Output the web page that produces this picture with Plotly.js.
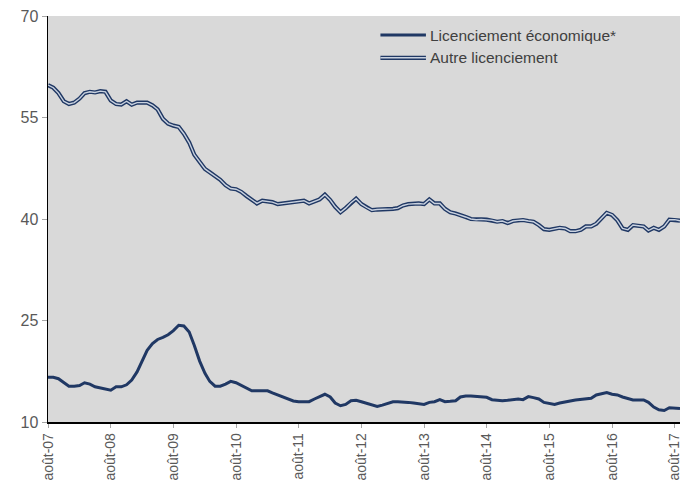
<!DOCTYPE html>
<html>
<head>
<meta charset="utf-8">
<script src="https://cdn.plot.ly/plotly-3.0.1.min.js"></script>
<style>html,body{margin:0;padding:0;background:#fff}#chart{width:696px;height:486px}</style>
</head>
<body>
<div id="chart"></div>
<script>
// Monthly series, août 2007 -> septembre 2017
var startYear = 2007, startMonth = 8;
var seriesNames = ["Licenciement économique*", "Autre licenciement"];
var licEco = [16.6,16.6,16.4,15.9,15.3,15.3,15.4,15.8,15.6,15.2,15.0,14.8,
  14.7,15.2,15.2,15.5,16.2,17.4,19.0,20.6,21.6,22.2,22.5,22.9,
  23.5,24.3,24.2,23.3,21.3,19.0,17.2,16.0,15.3,15.3,15.6,16.0,
  15.8,15.4,15.0,14.6,14.6,14.6,14.6,14.3,14.0,13.7,13.4,13.1,
  13.0,13.0,13.0,13.4,13.8,14.1,13.7,12.8,12.4,12.6,13.15,13.2,
  13.0,12.8,12.5,12.3,12.5,12.8,13.0,13.0,13.0,12.9,12.8,12.7,
  12.6,12.9,13.0,13.3,13.0,13.05,13.15,13.7,13.85,13.85,13.8,13.7,
  13.65,13.3,13.2,13.15,13.2,13.3,13.4,13.3,13.75,13.6,13.4,12.9,
  12.7,12.6,12.8,12.9,13.1,13.25,13.35,13.4,13.5,14.0,14.2,14.35,
  14.1,14.0,13.7,13.45,13.25,13.25,13.25,12.9,12.2,11.8,11.7,12.1,
  12.05,12.0];
var autreLic = [59.8,59.4,58.6,57.4,57.0,57.2,57.8,58.6,58.8,58.7,58.9,58.8,
  57.5,57.0,56.9,57.4,56.9,57.2,57.2,57.2,56.8,56.2,54.8,54.1,
  53.8,53.6,52.6,51.3,49.5,48.4,47.4,46.9,46.3,45.8,45.0,44.5,
  44.4,44.0,43.4,42.8,42.3,42.7,42.6,42.5,42.2,42.3,42.4,42.5,
  42.6,42.7,42.3,42.6,42.9,43.6,42.8,41.8,41.0,41.6,42.4,43.0,
  42.2,41.7,41.3,41.4,41.4,41.4,41.5,41.6,42.0,42.2,42.3,42.3,
  42.2,42.9,42.3,42.3,41.5,41.0,40.8,40.6,40.3,40.0,39.9,39.95,
  39.9,39.8,39.6,39.7,39.4,39.7,39.8,39.85,39.7,39.6,39.1,38.5,
  38.4,38.6,38.7,38.6,38.2,38.2,38.4,38.9,38.9,39.3,40.1,40.9,
  40.6,39.8,38.6,38.4,39.1,39.0,38.9,38.3,38.7,38.4,38.9,39.9,
  39.9,39.75];
var tickLabels = ["août-07","août-08","août-09","août-10","août-11","août-12","août-13","août-14","août-15","août-16","août-17"];
var yTicks = [10,25,40,55,70];

function monthDate(i){
  var m = startMonth - 1 + i;
  var y = startYear + Math.floor(m/12);
  var mm = (m % 12) + 1;
  return y + "-" + (mm<10?"0":"") + mm + "-01";
}
var dates = licEco.map(function(_,i){return monthDate(i);});
var tickVals = tickLabels.map(function(_,k){return monthDate(k*12);});

var navy = "#203864";
var inner = "#c9d2e0";
var font = "'Liberation Sans', Arial, sans-serif";

var traces = [
  {x: dates, y: licEco, type:"scatter", mode:"lines", name: seriesNames[0],
   line:{color:navy, width:3}, showlegend:false, hoverinfo:"skip"},
  {x: dates, y: autreLic, type:"scatter", mode:"lines", name: seriesNames[1],
   line:{color:navy, width:4.2}, showlegend:false, hoverinfo:"skip"},
  {x: dates, y: autreLic, type:"scatter", mode:"lines", name: seriesNames[1],
   line:{color:inner, width:1.4}, showlegend:false, hoverinfo:"skip"}
];

var layout = {
  width:696, height:486,
  margin:{l:48, r:16, t:16, b:64},
  paper_bgcolor:"#ffffff", plot_bgcolor:"#d9d9d9",
  font:{family:font, size:14, color:"#595959"},
  xaxis:{type:"date", range:[dates[0], dates[dates.length-1]],
    tickvals:tickVals, ticktext:tickLabels, tickangle:-90,
    tickfont:{family:font, size:14, color:"#595959"},
    showgrid:false, zeroline:false, showline:true, linecolor:"#000000", linewidth:1.5,
    ticks:"outside", ticklen:4, tickcolor:"#a6a6a6", tickwidth:1},
  yaxis:{range:[10,70], tickvals:yTicks, ticktext:yTicks.map(String),
    tickfont:{family:font, size:16, color:"#595959"},
    showgrid:false, zeroline:false, showline:true, linecolor:"#000000", linewidth:1.5,
    ticks:"outside", ticklen:5, tickcolor:"#a6a6a6", tickwidth:1},
  shapes:[
    {type:"line", xref:"paper", yref:"paper", x0:0.526, x1:0.598, y0:0.953, y1:0.953, line:{color:navy, width:3}},
    {type:"line", xref:"paper", yref:"paper", x0:0.526, x1:0.598, y0:0.897, y1:0.897, line:{color:navy, width:4.2}},
    {type:"line", xref:"paper", yref:"paper", x0:0.526, x1:0.598, y0:0.897, y1:0.897, line:{color:inner, width:1.4}}
  ],
  annotations:[
    {xref:"paper", yref:"paper", x:0.601, y:0.953, xanchor:"left", yanchor:"middle", showarrow:false,
     text:seriesNames[0], font:{family:font, size:15.5, color:"#404040"}},
    {xref:"paper", yref:"paper", x:0.601, y:0.897, xanchor:"left", yanchor:"middle", showarrow:false,
     text:seriesNames[1], font:{family:font, size:15.5, color:"#404040"}}
  ]
};
Plotly.newPlot("chart", traces, layout, {displayModeBar:false, staticPlot:true});
</script>
</body>
</html>
